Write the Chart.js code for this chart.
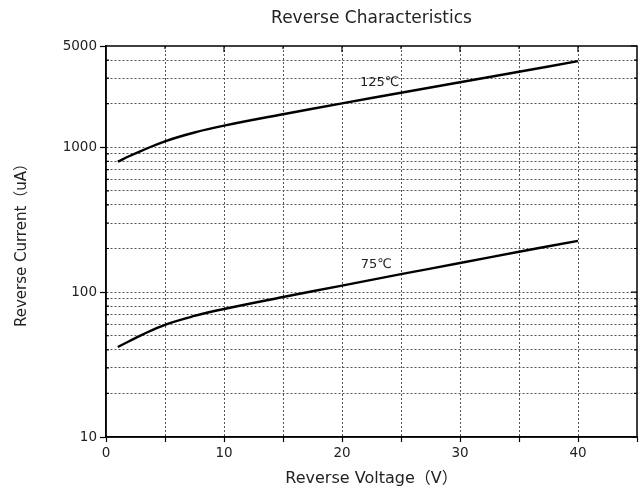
<!DOCTYPE html>
<html>
<head>
<meta charset="utf-8">
<script src="https://cdn.jsdelivr.net/npm/chart.js@4"></script>
<style>
  html, body { margin: 0; padding: 0; background: #fff; }
  #wrap { width: 642px; height: 495px; }
</style>
</head>
<body>
<div id="wrap"><canvas id="revChart"></canvas></div>
<script>
// data
var voltage = [1, 2, 3, 5, 7.5, 10, 15, 20, 25, 30, 35, 40];
var current125 = [795, 870, 945, 1100, 1265, 1410, 1690, 2010, 2380, 2810, 3320, 3930];
var current75 = [41.8, 46, 50.5, 59.5, 68.5, 76.5, 92.5, 111, 133, 159, 190, 226];
var seriesNames = ['125℃', '75℃'];

// axis ticks
var yTickValues = [10, 20, 30, 40, 50, 60, 70, 80, 90,
                   100, 200, 300, 400, 500, 600, 700, 800, 900,
                   1000, 2000, 3000, 4000, 5000];
var yTickLabels = [10, 100, 1000, 5000];
var xTickLabels = [0, 10, 20, 30, 40];

// where the curve names sit (data units)
var namePos = [{x: 23.2, y: 2780}, {x: 22.9, y: 156}];

var FONT = "'DejaVu Sans', 'Noto Sans CJK SC', sans-serif";
var INK = '#222';

// box round the plot, inner ticks on top and right, curve names
var framePlugin = {
  id: 'frame',
  afterDatasetsDraw: function(chart) {
    var ctx = chart.ctx, a = chart.chartArea;
    var xs = chart.scales.x, ys = chart.scales.y;
    ctx.save();
    ctx.strokeStyle = '#000';
    ctx.lineWidth = 1.5;
    ctx.strokeRect(a.left, a.top, a.right - a.left, a.bottom - a.top);
    ctx.lineWidth = 1.2;
    ctx.beginPath();
    for (var v = 5; v < 45; v += 5) {
      var px = xs.getPixelForValue(v);
      ctx.moveTo(px, a.top);
      ctx.lineTo(px, a.top + (v % 10 === 0 ? 6 : 3));
    }
    yTickValues.forEach(function(val) {
      var py = ys.getPixelForValue(val);
      var big = yTickLabels.indexOf(val) >= 0;
      ctx.moveTo(a.right, py);
      ctx.lineTo(a.right - (big ? 6 : 3), py);
      if (!big) {
        ctx.moveTo(a.left, py);
        ctx.lineTo(a.left + 3, py);
      }
    });
    ctx.stroke();
    ctx.fillStyle = INK;
    ctx.font = '13px ' + FONT;
    ctx.textAlign = 'center';
    ctx.textBaseline = 'middle';
    seriesNames.forEach(function(name, i) {
      ctx.fillText(name, xs.getPixelForValue(namePos[i].x), ys.getPixelForValue(namePos[i].y));
    });
    ctx.restore();
  }
};

function makeLine(label, values) {
  return {
    label: label,
    data: voltage.map(function(v, i) { return {x: v, y: values[i]}; }),
    borderColor: '#000',
    borderWidth: 2.4,
    pointRadius: 0,
    fill: false,
    tension: 0.4
  };
}

new Chart(document.getElementById('revChart'), {
  type: 'line',
  data: {
    datasets: [makeLine(seriesNames[0], current125), makeLine(seriesNames[1], current75)]
  },
  options: {
    responsive: true,
    maintainAspectRatio: false,
    animation: false,
    layout: { padding: { right: 5, top: 0, left: 0, bottom: 0 } },
    plugins: {
      legend: { display: false },
      tooltip: { enabled: false },
      title: {
        display: true,
        text: 'Reverse Characteristics',
        color: INK,
        fullSize: false,
        font: { family: FONT, size: 17, weight: 'normal' },
        padding: { top: 8, bottom: 17.6 }
      }
    },
    scales: {
      x: {
        type: 'linear',
        min: 0,
        max: 45,
        afterFit: function(scale) { scale.height = 58; },
        ticks: {
          stepSize: 5,
          color: INK,
          padding: 3,
          maxRotation: 0,
          font: { family: FONT, size: 13.5 },
          callback: function(v) { return xTickLabels.indexOf(v) >= 0 ? String(v) : ''; }
        },
        grid: {
          color: function(c) { return (c.tick && (c.tick.value === 0 || c.tick.value === 45)) ? 'rgba(0,0,0,0)' : '#555'; },
          lineWidth: 1,
          tickLength: 5,
          tickColor: '#000',
          tickWidth: 1.2
        },
        border: { display: true, color: '#000', width: 1.5, dash: [2, 2] },
        title: {
          display: true,
          text: 'Reverse Voltage（V）',
          color: INK,
          font: { family: FONT, size: 16 },
          padding: { top: 0, bottom: 7 }
        }
      },
      y: {
        type: 'logarithmic',
        min: 10,
        max: 5000,
        afterFit: function(scale) { scale.width = 106; },
        afterBuildTicks: function(scale) {
          scale.ticks = yTickValues.map(function(v) { return {value: v}; });
        },
        ticks: {
          color: INK,
          padding: 3,
          autoSkip: false,
          font: { family: FONT, size: 13.5 },
          callback: function(v) { return yTickLabels.indexOf(v) >= 0 ? String(v) : ''; }
        },
        grid: {
          color: function(c) { return (c.tick && (c.tick.value === 10 || c.tick.value === 5000)) ? 'rgba(0,0,0,0)' : '#555'; },
          lineWidth: 1,
          tickLength: 6,
          tickColor: function(c) { return (c.tick && yTickLabels.indexOf(c.tick.value) >= 0) ? '#000' : 'rgba(0,0,0,0)'; },
          tickWidth: 1.2
        },
        border: { display: true, color: '#000', width: 1.5, dash: [2, 2] },
        title: {
          display: true,
          text: 'Reverse Current（uA）',
          color: INK,
          font: { family: FONT, size: 15 },
          padding: { top: 13, bottom: 0 }
        }
      }
    }
  },
  plugins: [framePlugin]
});
</script>
</body>
</html>
